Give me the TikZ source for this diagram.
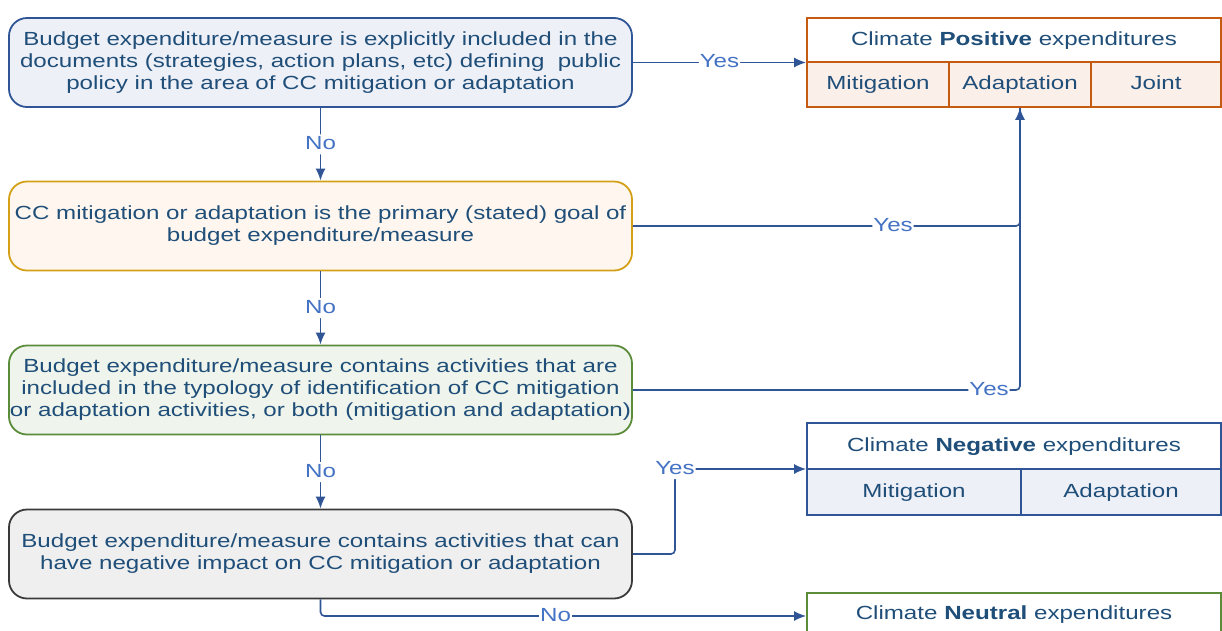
\documentclass[tikz,border=0pt]{standalone}
\usepackage{fontspec}
\setmainfont[FakeStretch=1.27]{Liberation Sans}
\usetikzlibrary{arrows.meta}
\definecolor{txt}{HTML}{1F4E79}
\definecolor{lnc}{HTML}{2F5597}
\definecolor{lbc}{HTML}{4472C4}
\definecolor{orng}{HTML}{C55A11}
\definecolor{gold}{HTML}{D4A017}
\definecolor{grn}{HTML}{5B8C3A}
\definecolor{drk}{HTML}{3A3A3A}
\definecolor{fillA}{HTML}{EEF0F7}
\definecolor{fillB}{HTML}{FFF7EF}
\definecolor{fillC}{HTML}{EFF5EC}
\definecolor{fillD}{HTML}{EFEFEF}
\definecolor{fillP}{HTML}{FBEFEA}
\tikzset{
  decision/.style={draw, line width=1.8pt, rounded corners=18pt, minimum width=623pt,
    minimum height=89pt, align=center, text=txt, inner sep=0pt},
  frame/.style={draw, line width=1.8pt, minimum width=414pt, inner sep=0pt},
  cell/.style={draw, line width=1.6pt, text=txt, inner sep=0pt, text height=14pt, text depth=4pt},
  conn/.style={draw=lnc, line width=1.6pt, rounded corners=4pt},
  arr/.style={conn, -{Latex[length=12pt,width=10pt]}},
  lbl/.style={fill=white, text=lbc, inner sep=1pt, text height=14pt, text depth=4pt}
}
\begin{document}
\begin{tikzpicture}[x=1pt,y=-1pt,font=\fontsize{19}{22}\selectfont]
\useasboundingbox (0,0) rectangle (1222,630);
\clip (0,0) rectangle (1222,630);
\fill[white] (0,0) rectangle (1222,630);

% decision boxes
\node[decision, draw=lnc, fill=fillA] (b1) at (320.5,62.5)
  {Budget expenditure/measure is explicitly included in the\\documents (strategies, action plans, etc) defining\ \ public\\policy in the area of CC mitigation or adaptation};
\node[decision, draw=gold, fill=fillB] (b2) at (320.5,226)
  {CC mitigation or adaptation is the primary (stated) goal of\\budget expenditure/measure};
\node[decision, draw=grn, fill=fillC] (b3) at (320.5,390)
  {Budget expenditure/measure contains activities that are\\included in the typology of identification of CC mitigation\\or adaptation activities, or both (mitigation and adaptation)};
\node[decision, draw=drk, fill=fillD] (b4) at (320.5,554)
  {Budget expenditure/measure contains activities that can\\have negative impact on CC mitigation or adaptation};

% positive table
\node[frame, draw=orng, minimum height=89pt] (pos) at (1014,62.5) {};
\node[cell, draw=orng, minimum width=414pt, minimum height=44pt] (posH) at (1014,40) {Climate \textbf{Positive} expenditures};
\node[cell, draw=orng, fill=fillP, minimum width=142pt, minimum height=45pt] (posM) at (878,84.5) {Mitigation};
\node[cell, draw=orng, fill=fillP, minimum width=142pt, minimum height=45pt] (posA) at (1020,84.5) {Adaptation};
\node[cell, draw=orng, fill=fillP, minimum width=130pt, minimum height=45pt] (posJ) at (1156,84.5) {Joint};

% negative table
\node[frame, draw=lnc, minimum height=92pt] (neg) at (1014,469) {};
\node[cell, draw=lnc, minimum width=414pt, minimum height=46pt] (negH) at (1014,446) {Climate \textbf{Negative} expenditures};
\node[cell, draw=lnc, fill=fillA, minimum width=214pt, minimum height=46pt] (negM) at (914,492) {Mitigation};
\node[cell, draw=lnc, fill=fillA, minimum width=200pt, minimum height=46pt] (negA) at (1121,492) {Adaptation};

% neutral table
\node[frame, draw=grn, minimum height=46pt] (neu) at (1014,616) {};
\node[text=txt, text height=14pt, text depth=4pt, inner sep=0pt] (neuH) at (1014,614) {Climate \textbf{Neutral} expenditures};

% connectors
\draw[arr] (b1.east) -- node[lbl, pos=0.5]{Yes} (pos.west);
\draw[arr] (b1.south) -- node[lbl]{No} (b2.north);
\draw[arr] (b2.south) -- node[lbl]{No} (b3.north);
\draw[arr] (b3.south) -- node[lbl]{No} (b4.north);
\draw[arr] (b2.east) -| node[lbl, pos=0.336]{Yes} (posA.south);
\draw[conn] (b3.east) -| node[lbl, pos=0.46]{Yes} (posA.south);
\draw[arr] (b4.east) -| (675,469) -- node[lbl, pos=0]{Yes} (neg.west);
\draw[arr] (b4.south) |- node[lbl, pos=0.742]{No} (neu.west);
\end{tikzpicture}
\end{document}
